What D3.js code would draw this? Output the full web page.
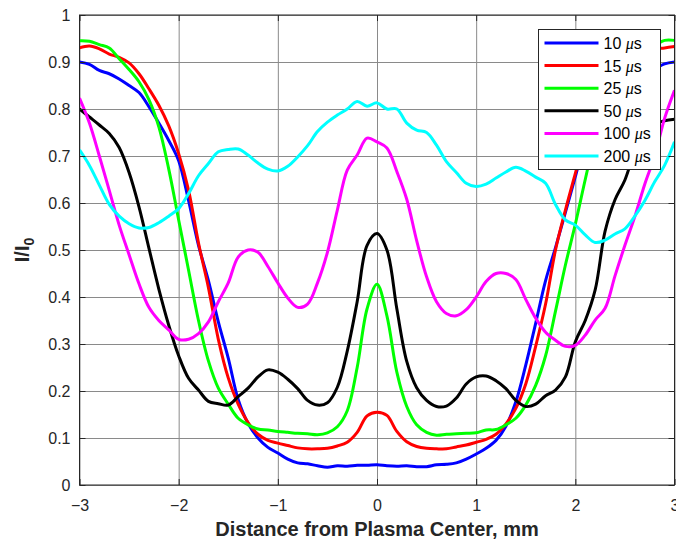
<!DOCTYPE html>
<html>
<head>
<meta charset="utf-8">
<script src="https://cdnjs.cloudflare.com/ajax/libs/d3/7.8.5/d3.min.js"></script>
<style>
    body { margin: 0; background: #fff; }
    svg { display: block; font-family: "Liberation Sans", Arial, sans-serif; }
    .tick text { fill: #262626; font-size: 16px; }
    .grid line { stroke: #8a8a8a; stroke-width: 1; }
    .grid path { display: none; }
</style>
</head>
<body>
<div id="chart"></div>
<script>
// x positions (mm) shared by all series
var xs = [-3.0, -2.9, -2.8, -2.7, -2.6, -2.5, -2.4, -2.3, -2.2, -2.1,
    -2.0, -1.9, -1.8, -1.7, -1.6, -1.5, -1.4, -1.3, -1.2, -1.1,
    -1.0, -0.9, -0.8, -0.7, -0.6, -0.5, -0.4, -0.3, -0.2, -0.1,
    0.0, 0.1, 0.2, 0.3, 0.4, 0.5, 0.6, 0.7, 0.8, 0.9,
    1.0, 1.1, 1.2, 1.3, 1.4, 1.5, 1.6, 1.7, 1.8, 1.9,
    2.0, 2.1, 2.2, 2.3, 2.4, 2.5, 2.6, 2.7, 2.8, 2.9, 3.0];

var s10 = [0.900, 0.895, 0.882, 0.875, 0.864, 0.850, 0.835, 0.805, 0.770, 0.733,
    0.690, 0.605, 0.510, 0.435, 0.347, 0.270, 0.182, 0.131, 0.100, 0.080,
    0.068, 0.055, 0.047, 0.045, 0.041, 0.038, 0.041, 0.040, 0.042, 0.042,
    0.043, 0.041, 0.040, 0.041, 0.039, 0.039, 0.043, 0.044, 0.047, 0.055,
    0.066, 0.078, 0.095, 0.125, 0.177, 0.255, 0.344, 0.435, 0.505, 0.580,
    0.656, 0.730, 0.770, 0.800, 0.830, 0.850, 0.865, 0.875, 0.885, 0.896, 0.900];

var s15 = [0.930, 0.934, 0.928, 0.917, 0.910, 0.898, 0.875, 0.843, 0.808, 0.764,
    0.705, 0.627, 0.515, 0.420, 0.310, 0.228, 0.172, 0.133, 0.108, 0.095,
    0.089, 0.084, 0.079, 0.077, 0.077, 0.078, 0.083, 0.091, 0.112, 0.147,
    0.155, 0.148, 0.114, 0.092, 0.082, 0.078, 0.077, 0.077, 0.081, 0.085,
    0.091, 0.097, 0.108, 0.130, 0.163, 0.215, 0.295, 0.385, 0.500, 0.585,
    0.663, 0.740, 0.800, 0.840, 0.870, 0.890, 0.910, 0.920, 0.928, 0.930, 0.933];

var s25 = [0.945, 0.944, 0.937, 0.930, 0.907, 0.884, 0.858, 0.820, 0.762, 0.672,
    0.564, 0.457, 0.350, 0.264, 0.206, 0.172, 0.142, 0.128, 0.119, 0.117,
    0.114, 0.112, 0.110, 0.109, 0.107, 0.111, 0.124, 0.158, 0.250, 0.375,
    0.427, 0.360, 0.240, 0.167, 0.128, 0.112, 0.106, 0.108, 0.109, 0.110,
    0.111, 0.117, 0.118, 0.128, 0.142, 0.170, 0.212, 0.275, 0.370, 0.468,
    0.555, 0.650, 0.740, 0.810, 0.860, 0.890, 0.910, 0.925, 0.935, 0.946, 0.946];

var s50 = [0.800, 0.783, 0.766, 0.748, 0.718, 0.665, 0.592, 0.504, 0.417, 0.340,
    0.275, 0.227, 0.202, 0.178, 0.173, 0.170, 0.188, 0.206, 0.230, 0.245,
    0.240, 0.225, 0.205, 0.180, 0.170, 0.175, 0.208, 0.285, 0.390, 0.510,
    0.535, 0.500, 0.375, 0.263, 0.207, 0.180, 0.167, 0.168, 0.185, 0.215,
    0.230, 0.232, 0.222, 0.205, 0.180, 0.167, 0.172, 0.190, 0.202, 0.230,
    0.305, 0.350, 0.415, 0.540, 0.607, 0.649, 0.710, 0.750, 0.768, 0.775, 0.778];

var s100 = [0.823, 0.770, 0.700, 0.627, 0.553, 0.490, 0.428, 0.378, 0.350, 0.330,
    0.310, 0.310, 0.322, 0.347, 0.390, 0.430, 0.485, 0.500, 0.495, 0.465,
    0.430, 0.398, 0.378, 0.385, 0.430, 0.495, 0.585, 0.670, 0.702, 0.738,
    0.730, 0.717, 0.667, 0.608, 0.520, 0.443, 0.390, 0.365, 0.360, 0.373,
    0.400, 0.433, 0.450, 0.450, 0.437, 0.395, 0.355, 0.325, 0.308, 0.295,
    0.297, 0.319, 0.351, 0.376, 0.445, 0.510, 0.571, 0.640, 0.700, 0.780, 0.840];

var s200 = [0.713, 0.680, 0.638, 0.597, 0.572, 0.556, 0.547, 0.548, 0.558, 0.572,
    0.588, 0.620, 0.658, 0.684, 0.709, 0.714, 0.715, 0.702, 0.685, 0.672,
    0.668, 0.678, 0.698, 0.722, 0.752, 0.772, 0.787, 0.800, 0.816, 0.806,
    0.813, 0.800, 0.800, 0.770, 0.755, 0.750, 0.723, 0.688, 0.665, 0.642,
    0.635, 0.640, 0.653, 0.666, 0.676, 0.668, 0.655, 0.642, 0.597, 0.564,
    0.553, 0.532, 0.516, 0.521, 0.534, 0.545, 0.572, 0.605, 0.645, 0.680, 0.730];

var seriesNames = ["10", "15", "25", "50", "100", "200"];
var seriesValues = [s10, s15, s25, s50, s100, s200];
var seriesColors = ["#0000ff", "#ff0000", "#00ff00", "#000000", "#ff00ff", "#00ffff"];

var xTicks = [-3, -2, -1, 0, 1, 2, 3];
var yTicks = [0, 0.1, 0.2, 0.3, 0.4, 0.5, 0.6, 0.7, 0.8, 0.9, 1];

var margin = { top: 15, right: 1.5, bottom: 56, left: 79.5 },
    totalW = 676, totalH = 541,
    width = totalW - margin.left - margin.right,
    height = totalH - margin.top - margin.bottom;

var svg = d3.select("#chart").append("svg")
    .attr("width", totalW)
    .attr("height", totalH)
    .append("g")
        .attr("transform", "translate(" + margin.left + "," + margin.top + ")");

var x = d3.scaleLinear().domain([-3, 3]).range([0, width]);
var y = d3.scaleLinear().domain([0, 1]).range([height, 0]);

// grid
svg.append("g").attr("class", "grid")
    .attr("transform", "translate(0," + height + ")")
    .call(d3.axisBottom(x).tickValues(xTicks).tickSize(-height).tickFormat(""));
svg.append("g").attr("class", "grid")
    .call(d3.axisLeft(y).tickValues(yTicks).tickSize(-width).tickFormat(""));

svg.append("clipPath").attr("id", "clip")
    .append("rect").attr("width", width).attr("height", height);

var line = d3.line()
    .x(function (d, i) { return x(xs[i]); })
    .y(function (d) { return y(d); })
    .curve(d3.curveCatmullRom.alpha(0.5));

svg.append("g").attr("clip-path", "url(#clip)")
    .selectAll("path").data(seriesValues).enter()
    .append("path")
        .attr("d", line)
        .attr("fill", "none")
        .attr("stroke", function (d, i) { return seriesColors[i]; })
        .attr("stroke-width", 3)
        .attr("stroke-linejoin", "round");

// axes (ticks pointing inward, box on)
function styleAxis(g) {
    g.select(".domain").remove();
    g.selectAll(".tick line").attr("stroke", "#262626");
}
svg.append("g")
    .attr("transform", "translate(0," + height + ")")
    .call(d3.axisBottom(x).tickValues(xTicks).tickSize(-6).tickPadding(15).tickFormat(d3.format("d")))
    .call(styleAxis);
svg.append("g")
    .call(d3.axisTop(x).tickValues(xTicks).tickSize(-6).tickFormat(""))
    .call(styleAxis);
svg.append("g")
    .call(d3.axisLeft(y).tickValues(yTicks).tickSize(-6).tickPadding(9).tickFormat(function (d) { return d3.format("")(d); }))
    .call(styleAxis);
svg.append("g")
    .attr("transform", "translate(" + width + ",0)")
    .call(d3.axisRight(y).tickValues(yTicks).tickSize(-6).tickFormat(""))
    .call(styleAxis);

svg.append("rect")
    .attr("width", width).attr("height", height)
    .attr("fill", "none").attr("stroke", "#262626").attr("stroke-width", 1);

svg.selectAll(".tick text").style("font-size", "16px").attr("fill", "#262626");

// axis titles
svg.append("text")
    .attr("x", x(0)).attr("y", height + 51)
    .attr("text-anchor", "middle")
    .style("font-size", "20px").style("font-weight", "bold").attr("fill", "#262626")
    .text("Distance from Plasma Center, mm");

var yl = svg.append("text")
    .attr("transform", "translate(" + (-51) + "," + y(0.5) + ") rotate(-90)")
    .attr("text-anchor", "middle")
    .style("font-size", "20px").style("font-weight", "bold").attr("fill", "#262626");
yl.append("tspan").text("I/I");
yl.append("tspan").attr("dy", 5).style("font-size", "14px").text("0");

// legend
var leg = svg.append("g").attr("transform", "translate(" + (538.5 - margin.left) + "," + (29.5 - margin.top) + ")");
leg.append("rect")
    .attr("width", 122).attr("height", 140)
    .attr("fill", "#fff").attr("stroke", "#262626").attr("stroke-width", 1);

var items = leg.selectAll(".item").data(seriesNames).enter()
    .append("g").attr("class", "item")
    .attr("transform", function (d, i) { return "translate(0," + (13.5 + i * 22.6) + ")"; });
items.append("line")
    .attr("x1", 6).attr("x2", 60)
    .attr("stroke", function (d, i) { return seriesColors[i]; })
    .attr("stroke-width", 3);
var lt = items.append("text")
    .attr("x", 65).attr("y", 6)
    .style("font-size", "16px").attr("fill", "#000");
lt.append("tspan").text(function (d) { return d + " "; });
lt.append("tspan").style("font-style", "italic").style("font-family", "'Liberation Serif', serif").text("\u03bc");
lt.append("tspan").text("s");
</script>
</body>
</html>
